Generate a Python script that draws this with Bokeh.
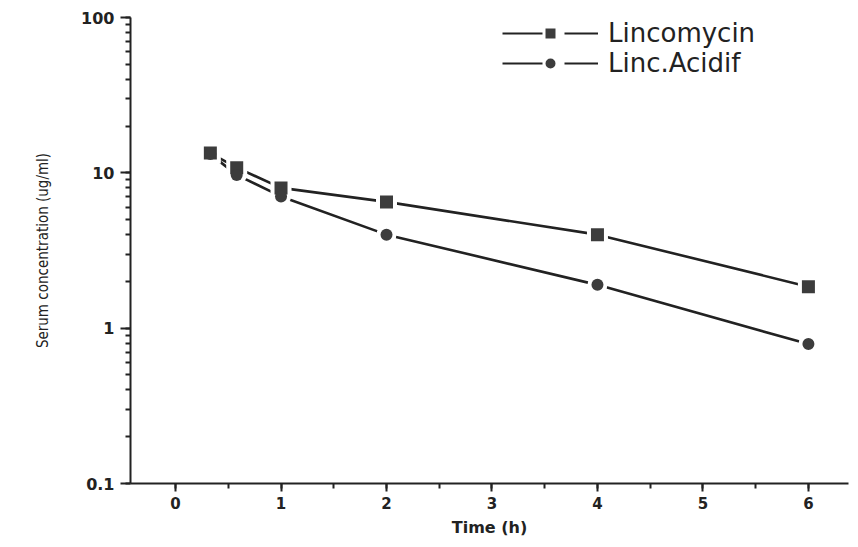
from bokeh.plotting import figure
from bokeh.models import (Legend, LegendItem, LogTicker, SingleIntervalTicker,
                          CustomJSTickFormatter, Range1d, ColumnDataSource)
from bokeh.embed import file_html
from bokeh.resources import INLINE

time_h = [0.33, 0.58, 1, 2, 4, 6]
lincomycin = [13.4, 10.8, 8.0, 6.5, 4.0, 1.85]
linc_acidif = [13.2, 9.7, 7.05, 4.0, 1.9, 0.79]
series_names = ["Lincomycin", "Linc.Acidif"]

W, H = 850, 539
p = figure(width=W, height=H, y_axis_type="log", output_backend="svg",
           toolbar_location=None, x_range=Range1d(-0.427, 6.38),
           y_range=Range1d(0.1, 100), min_border_left=130, min_border_top=17,
           min_border_bottom=52, min_border_right=2)
p.outline_line_color = None
p.grid.visible = False
p.background_fill_color = "white"

ink = "#222222"
mfill = "#3c3c3c"
src1 = ColumnDataSource(dict(x=time_h, y=lincomycin))
src2 = ColumnDataSource(dict(x=time_h, y=linc_acidif))

l1 = p.line("x", "y", source=src1, line_color=ink, line_width=2.6)
l2 = p.line("x", "y", source=src2, line_color=ink, line_width=2.6)
# white halos that break the lines near the markers
p.scatter("x", "y", source=src1, marker="square", size=21,
          fill_color="white", line_color=None)
p.scatter("x", "y", source=src2, marker="circle", size=20,
          fill_color="white", line_color=None)
m1 = p.scatter("x", "y", source=src1, marker="square", size=13,
               fill_color=mfill, line_color=None)
m2 = p.scatter("x", "y", source=src2, marker="circle", size=12,
               fill_color=mfill, line_color=None)

# legend-only glyphs (placed outside the visible range)
off = dict(x=[-10.0], y=[1.0])
lg1 = p.line("x", "y", source=ColumnDataSource(off), line_color=ink, line_width=2.2,
             line_dash="40 22 34")
lg1m = p.scatter("x", "y", source=ColumnDataSource(off), marker="square", size=12,
                 fill_color=mfill, line_color="white", line_width=2)
lg2 = p.line("x", "y", source=ColumnDataSource(off), line_color=ink, line_width=2.2,
             line_dash="40 22 34")
lg2m = p.scatter("x", "y", source=ColumnDataSource(off), marker="circle", size=12,
                 fill_color=mfill, line_color="white", line_width=2)

font = "DejaVu Sans"
xa = p.xaxis[0]
xa.ticker = SingleIntervalTicker(interval=1, num_minor_ticks=2)
xa.axis_label = "Time (h)"
xa.axis_label_text_font = font
xa.axis_label_text_font_style = "bold"
xa.axis_label_text_font_size = "16px"
xa.axis_label_text_color = ink
xa.axis_label_standoff = 6
xa.major_label_text_font = font
xa.major_label_text_font_style = "bold"
xa.major_label_text_font_size = "15px"
xa.major_label_text_color = ink
xa.axis_line_width = 2
xa.axis_line_color = ink
xa.major_tick_line_color = ink
xa.minor_tick_line_color = ink
xa.major_tick_line_width = 2
xa.minor_tick_line_width = 2
xa.major_tick_out = 8
xa.major_tick_in = 0
xa.minor_tick_out = 5
xa.minor_tick_in = 0
xa.major_label_standoff = 5

ya = p.yaxis[0]
ya.ticker = LogTicker(num_minor_ticks=10)
ya.formatter = CustomJSTickFormatter(code="return String(tick);")
ya.axis_label = "Serum concentration (ug/ml)"
ya.axis_label_text_font = "'Liberation Sans Narrow', 'DejaVu Sans Condensed', 'Roboto', sans-serif"
ya.axis_label_text_font_style = "normal"
ya.axis_label_text_font_size = "15px"
ya.axis_label_text_color = ink
ya.axis_label_standoff = 26
ya.major_label_text_font = font
ya.major_label_text_font_style = "bold"
ya.major_label_text_font_size = "16px"
ya.major_label_text_color = ink
ya.axis_line_width = 2
ya.axis_line_color = ink
ya.major_tick_line_color = ink
ya.minor_tick_line_color = ink
ya.major_tick_line_width = 2
ya.minor_tick_line_width = 2
ya.major_tick_out = 10
ya.major_tick_in = 0
ya.minor_tick_out = 5
ya.minor_tick_in = 0
ya.major_label_standoff = 6

legend = Legend(items=[LegendItem(label=series_names[0], renderers=[lg1, lg1m]),
                       LegendItem(label=series_names[1], renderers=[lg2, lg2m])],
                location=(372, 405))
legend.border_line_color = None
legend.background_fill_alpha = 0
legend.glyph_width = 96
legend.glyph_height = 30
legend.label_text_font = font
legend.label_text_font_size = "26px"
legend.label_text_color = ink
legend.label_standoff = 10
legend.label_height = 22
legend.padding = 0
legend.margin = 0
legend.spacing = -5
p.add_layout(legend, "center")

open("out.html", "w").write(file_html(p, INLINE))
